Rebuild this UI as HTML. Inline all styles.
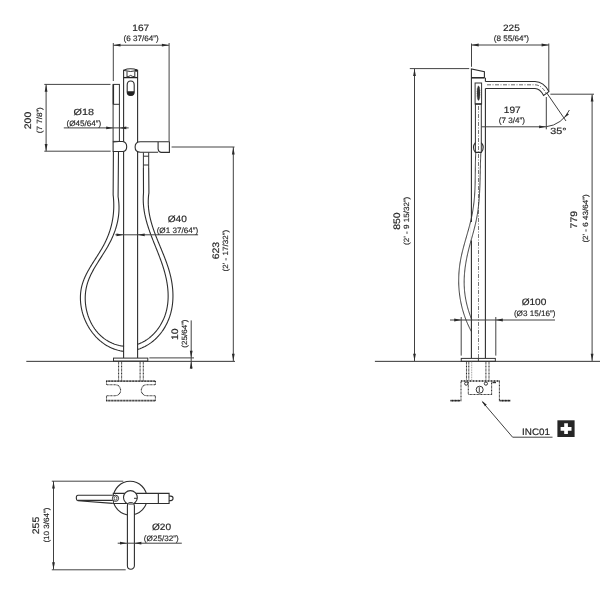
<!DOCTYPE html>
<html><head><meta charset="utf-8">
<style>
html,body{margin:0;padding:0;background:#fff;}
body{width:616px;height:591px;overflow:hidden;}
svg{display:block;}
text{font-family:"Liberation Sans",sans-serif;fill:#262626;text-rendering:geometricPrecision;}
.big{stroke:#262626;stroke-width:0.18px;}
.sm{stroke:#262626;stroke-width:0.14px;}
.ln{stroke:#333;stroke-width:1;fill:none;}
.ex{stroke:#3a3a3a;stroke-width:0.95;fill:none;}
.dm{stroke:#404040;stroke-width:1;fill:none;}
.th{stroke:#2e2e2e;stroke-width:1.1;fill:none;}
.dot{stroke:#2a2a2a;stroke-width:1.05;stroke-dasharray:0.9,0.5;fill:none;}
.dotk{stroke:#1e1e1e;stroke-width:1.7;stroke-dasharray:1,0.5;fill:none;}
</style></head>
<body>
<svg width="616" height="591" viewBox="0 0 616 591">
<line class="ex" x1="113.3" y1="43" x2="113.3" y2="81" />
<line class="ex" x1="169.1" y1="43" x2="169.1" y2="141" />
<line class="dm" x1="113.3" y1="45.2" x2="169.1" y2="45.2" />
<path d="M113.50,45.20 L120.50,43.80 L120.50,46.60 Z" fill="#2a2a2a"/>
<path d="M168.90,45.20 L161.90,46.60 L161.90,43.80 Z" fill="#2a2a2a"/>
<line class="ex" x1="44.3" y1="84.4" x2="110.5" y2="84.4" />
<line class="ex" x1="44.3" y1="151.2" x2="110.7" y2="151.2" />
<line class="dm" x1="46.1" y1="84.4" x2="46.1" y2="151.2" />
<path d="M46.10,84.70 L47.50,91.70 L44.70,91.70 Z" fill="#2a2a2a"/>
<path d="M46.10,150.90 L44.70,143.90 L47.50,143.90 Z" fill="#2a2a2a"/>
<path class="th" d="M123.6,358 L123.6,70.2 Q130.6,67.4 137.6,70.2 L137.6,358"/>
<path class="ln" d="M123.6,70.4 Q130.6,72.6 137.6,70.4"/>
<line x1="123.6" y1="77.6" x2="137.6" y2="77.6" stroke="#222" stroke-width="1.3"/>
<path class="ln" d="M127,71.4 L127,77.6 M134.8,71.4 L134.8,77.6 M127,76.8 Q129,76.6 130.6,75.4 Q132.2,76.6 134.8,76.8"/>
<circle cx="136.1" cy="70.4" r="1.25" fill="#222"/>
<path class="th" d="M127.2,85 Q127.2,81 130.7,81 Q134.2,81 134.2,85 L134.2,92 Q134.2,95.4 130.7,95.4 Q127.2,95.4 127.2,92 Z"/>
<path d="M127.2,91.2 L134.2,91.2 L134.2,92.5 Q134.2,95.6 130.7,95.6 Q127.2,95.6 127.2,92.5 Z" fill="#222"/>
<rect class="ln" x="113.1" y="84.4" width="6.3" height="57" style="fill:#fff"/>
<line x1="113.4" y1="84.4" x2="113.4" y2="104.3" stroke="#2a2a2a" stroke-width="1.35"/>
<line class="ln" x1="113.1" y1="104.3" x2="119.4" y2="104.3"/>
<line class="dm" x1="63.8" y1="127.9" x2="128.7" y2="127.9" />
<path d="M113.20,127.90 L106.20,129.30 L106.20,126.50 Z" fill="#2a2a2a"/>
<path d="M119.30,127.90 L126.30,126.50 L126.30,129.30 Z" fill="#2a2a2a"/>
<path class="th" d="M113.1,142 Q115,141.5 119,141.5 L122.5,141.5 Q126.7,142 126.7,146.8 Q126.7,151.5 122.5,151.5 L119,151.5 Q115,151.5 113.1,151.5 Z" style="fill:#fff"/>
<rect x="136" y="142" width="33" height="10" fill="#fff"/>
<path class="th" d="M140.5,141.7 L169.4,141.7 L169.4,152.4 L161,152.4 Q158.5,152 158.1,149 L158.1,141.7 M158.1,152.2 L140.5,152.2 Q135.1,152.2 135.1,147 Q135.1,141.7 140.5,141.7" style="fill:#fff"/>
<path class="ln" d="M143.4,152.5 L143.4,168 M148.7,152.5 L148.7,168 M143.4,156.2 L148.7,156.2 M143.4,165 L148.7,165"/>
<path class="th" d="M113.4,151.5 L113.14,194.85 L113.25,195.83 L113.35,196.80 L113.44,197.77 L113.52,198.74 L113.59,199.71 L113.64,200.67 L113.69,201.63 L113.73,202.59 L113.75,203.54 L113.77,204.49 L113.78,205.44 L113.77,206.38 L113.76,207.32 L113.73,208.26 L113.70,209.20 L113.65,210.13 L113.59,211.06 L113.53,211.98 L113.45,212.91 L113.37,213.83 L113.27,214.74 L113.16,215.66 L113.05,216.57 L112.92,217.48 L112.78,218.38 L112.64,219.29 L112.48,220.19 L112.31,221.09 L112.14,221.98 L111.95,222.87 L111.76,223.76 L111.55,224.65 L111.34,225.53 L111.11,226.41 L110.88,227.29 L110.63,228.16 L110.38,229.04 L110.11,229.91 L109.84,230.78 L109.55,231.64 L109.26,232.50 L108.96,233.36 L108.65,234.22 L108.33,235.07 L107.99,235.92 L107.65,236.77 L107.30,237.62 L106.94,238.46 L106.57,239.31 L106.20,240.14 L105.81,240.98 L105.41,241.81 L105.00,242.65 L104.59,243.48 L104.16,244.30 L103.73,245.13 L103.29,245.95 L102.83,246.77 L102.37,247.59 L101.91,248.40 L101.43,249.21 L100.95,250.03 L100.47,250.84 L99.97,251.65 L99.48,252.45 L98.98,253.26 L98.47,254.07 L97.96,254.87 L97.45,255.68 L96.94,256.48 L96.43,257.29 L95.91,258.09 L95.40,258.89 L94.88,259.70 L94.37,260.50 L93.86,261.30 L93.35,262.11 L92.84,262.91 L92.33,263.72 L91.83,264.53 L91.33,265.34 L90.84,266.15 L90.35,266.96 L89.86,267.77 L89.39,268.58 L88.92,269.40 L88.45,270.22 L88.00,271.04 L87.55,271.86 L87.11,272.69 L86.68,273.51 L86.26,274.34 L85.85,275.18 L85.46,276.01 L85.07,276.85 L84.70,277.69 L84.34,278.54 L83.99,279.39 L83.65,280.24 L83.33,281.10 L83.03,281.96 L82.74,282.82 L82.47,283.69 L82.21,284.57 L81.97,285.45 L81.74,286.33 L81.54,287.22 L81.35,288.11 L81.18,289.00 L81.03,289.90 L80.89,290.81 L80.77,291.71 L80.67,292.62 L80.58,293.53 L80.52,294.45 L80.46,295.36 L80.43,296.28 L80.41,297.20 L80.41,298.12 L80.42,299.04 L80.45,299.96 L80.50,300.89 L80.56,301.81 L80.63,302.73 L80.73,303.65 L80.84,304.58 L80.96,305.50 L81.10,306.42 L81.25,307.33 L81.42,308.25 L81.61,309.16 L81.81,310.07 L82.02,310.98 L82.25,311.89 L82.50,312.79 L82.75,313.69 L83.03,314.59 L83.32,315.48 L83.62,316.36 L83.93,317.25 L84.26,318.12 L84.61,319.00 L84.96,319.86 L85.34,320.73 L85.72,321.58 L86.12,322.43 L86.53,323.27 L86.96,324.11 L87.39,324.94 L87.85,325.76 L88.31,326.58 L88.79,327.38 L89.28,328.18 L89.78,328.97 L90.30,329.75 L90.83,330.53 L91.37,331.29 L91.92,332.04 L92.48,332.79 L93.06,333.52 L93.65,334.24 L94.25,334.96 L94.86,335.66 L95.49,336.35 L96.12,337.03 L96.77,337.70 L97.43,338.35 L98.10,339.00 L98.78,339.63 L99.47,340.25 L100.17,340.85 L100.89,341.44 L101.61,342.02 L102.35,342.58 L103.09,343.13 L103.85,343.67 L104.62,344.19 L105.39,344.70 L106.18,345.19 L106.98,345.66 L107.78,346.12 L108.60,346.57 L109.43,346.99 L110.26,347.40 L111.11,347.80 L111.96,348.17 L112.83,348.53 L113.70,348.87 L114.58,349.19 L115.47,349.50 L116.37,349.78 L117.28,350.05 L118.20,350.30 L119.13,350.53 L120.06,350.74 L121.00,350.93 L121.95,351.09 L122.91,351.24 L123.88,351.37" />
<path class="th" d="M118.5,151.5 L118.09,196.80 L118.24,197.74 L118.38,198.68 L118.50,199.62 L118.61,200.55 L118.71,201.48 L118.79,202.40 L118.86,203.32 L118.91,204.24 L118.96,205.15 L118.99,206.06 L119.01,206.97 L119.01,207.87 L119.00,208.77 L118.98,209.67 L118.95,210.56 L118.91,211.45 L118.85,212.34 L118.79,213.22 L118.71,214.10 L118.62,214.98 L118.52,215.85 L118.40,216.72 L118.28,217.58 L118.14,218.45 L118.00,219.31 L117.84,220.16 L117.67,221.02 L117.50,221.87 L117.31,222.72 L117.11,223.56 L116.90,224.40 L116.68,225.24 L116.46,226.08 L116.22,226.91 L115.97,227.74 L115.71,228.57 L115.45,229.40 L115.17,230.22 L114.89,231.04 L114.59,231.85 L114.29,232.67 L113.98,233.48 L113.66,234.29 L113.33,235.10 L112.99,235.90 L112.65,236.70 L112.30,237.50 L111.93,238.30 L111.57,239.10 L111.19,239.89 L110.81,240.68 L110.41,241.47 L110.01,242.25 L109.61,243.04 L109.20,243.82 L108.78,244.60 L108.35,245.37 L107.91,246.15 L107.47,246.92 L107.03,247.69 L106.58,248.46 L106.12,249.23 L105.66,250.00 L105.19,250.76 L104.72,251.53 L104.25,252.29 L103.77,253.05 L103.29,253.81 L102.81,254.57 L102.33,255.33 L101.84,256.09 L101.36,256.85 L100.87,257.61 L100.39,258.37 L99.90,259.13 L99.42,259.89 L98.93,260.65 L98.45,261.41 L97.97,262.17 L97.49,262.94 L97.02,263.70 L96.55,264.46 L96.08,265.23 L95.62,266.00 L95.16,266.76 L94.71,267.53 L94.26,268.31 L93.82,269.08 L93.38,269.86 L92.95,270.63 L92.53,271.42 L92.12,272.20 L91.71,272.98 L91.32,273.77 L90.93,274.56 L90.55,275.36 L90.18,276.15 L89.83,276.95 L89.48,277.76 L89.14,278.57 L88.82,279.38 L88.50,280.19 L88.20,281.01 L87.91,281.83 L87.64,282.66 L87.38,283.49 L87.13,284.33 L86.90,285.17 L86.68,286.01 L86.48,286.86 L86.30,287.72 L86.12,288.58 L85.97,289.44 L85.83,290.30 L85.70,291.17 L85.59,292.04 L85.49,292.92 L85.41,293.80 L85.34,294.67 L85.29,295.56 L85.25,296.44 L85.23,297.32 L85.22,298.21 L85.23,299.09 L85.25,299.98 L85.28,300.86 L85.33,301.75 L85.39,302.63 L85.47,303.52 L85.57,304.40 L85.67,305.28 L85.79,306.16 L85.93,307.04 L86.08,307.91 L86.24,308.79 L86.42,309.66 L86.61,310.52 L86.82,311.39 L87.04,312.25 L87.27,313.11 L87.52,313.96 L87.78,314.80 L88.05,315.65 L88.34,316.48 L88.65,317.32 L88.96,318.14 L89.29,318.96 L89.63,319.78 L89.99,320.59 L90.36,321.39 L90.74,322.18 L91.14,322.97 L91.55,323.75 L91.97,324.52 L92.41,325.28 L92.86,326.03 L93.32,326.78 L93.80,327.51 L94.29,328.24 L94.79,328.96 L95.31,329.66 L95.84,330.36 L96.38,331.04 L96.93,331.72 L97.50,332.38 L98.08,333.04 L98.67,333.68 L99.28,334.31 L99.89,334.92 L100.52,335.53 L101.17,336.12 L101.82,336.69 L102.49,337.26 L103.17,337.81 L103.86,338.34 L104.57,338.87 L105.29,339.37 L106.01,339.87 L106.76,340.34 L107.51,340.81 L108.28,341.25 L109.05,341.68 L109.84,342.10 L110.65,342.49 L111.46,342.87 L112.29,343.24 L113.13,343.58 L113.98,343.91 L114.84,344.22 L115.71,344.51 L116.59,344.78 L117.49,345.04 L118.40,345.27 L119.32,345.49 L120.25,345.68 L121.19,345.86 L122.15,346.01 L123.11,346.15 L124.09,346.26" />
<path class="th" d="M143.4,168 L143.52,192.89 L143.45,193.77 L143.39,194.65 L143.33,195.52 L143.29,196.40 L143.27,197.26 L143.25,198.13 L143.24,198.99 L143.24,199.85 L143.26,200.71 L143.28,201.56 L143.32,202.41 L143.36,203.26 L143.42,204.11 L143.48,204.95 L143.55,205.79 L143.63,206.63 L143.73,207.47 L143.83,208.30 L143.94,209.13 L144.05,209.96 L144.18,210.79 L144.31,211.62 L144.45,212.44 L144.60,213.26 L144.76,214.08 L144.92,214.90 L145.10,215.71 L145.28,216.53 L145.46,217.34 L145.65,218.15 L145.85,218.96 L146.06,219.77 L146.27,220.57 L146.49,221.37 L146.71,222.18 L146.94,222.98 L147.17,223.78 L147.41,224.58 L147.66,225.38 L147.91,226.17 L148.16,226.97 L148.42,227.76 L148.68,228.55 L148.95,229.35 L149.22,230.14 L149.50,230.93 L149.77,231.72 L150.06,232.51 L150.34,233.30 L150.63,234.08 L150.92,234.87 L151.22,235.66 L151.51,236.44 L151.81,237.23 L152.11,238.01 L152.42,238.80 L152.72,239.58 L153.03,240.37 L153.34,241.15 L153.65,241.93 L153.96,242.72 L154.27,243.50 L154.59,244.29 L154.90,245.07 L155.21,245.85 L155.53,246.64 L155.84,247.42 L156.15,248.21 L156.47,248.99 L156.78,249.78 L157.09,250.56 L157.41,251.35 L157.72,252.14 L158.03,252.92 L158.33,253.71 L158.64,254.50 L158.95,255.29 L159.25,256.08 L159.55,256.87 L159.85,257.66 L160.15,258.46 L160.44,259.25 L160.73,260.05 L161.02,260.84 L161.30,261.64 L161.58,262.44 L161.86,263.24 L162.14,264.04 L162.41,264.84 L162.67,265.65 L162.93,266.45 L163.19,267.26 L163.44,268.07 L163.69,268.88 L163.94,269.69 L164.17,270.51 L164.41,271.32 L164.63,272.14 L164.86,272.96 L165.07,273.78 L165.28,274.60 L165.49,275.43 L165.68,276.25 L165.87,277.08 L166.06,277.91 L166.24,278.74 L166.41,279.58 L166.57,280.41 L166.73,281.24 L166.88,282.08 L167.02,282.91 L167.15,283.75 L167.28,284.59 L167.40,285.43 L167.51,286.27 L167.61,287.11 L167.70,287.94 L167.79,288.78 L167.86,289.62 L167.93,290.46 L167.99,291.30 L168.04,292.14 L168.08,292.98 L168.11,293.82 L168.13,294.66 L168.14,295.49 L168.14,296.33 L168.14,297.17 L168.12,298.00 L168.09,298.84 L168.05,299.67 L168.00,300.50 L167.94,301.33 L167.87,302.16 L167.78,302.99 L167.69,303.81 L167.58,304.64 L167.47,305.46 L167.34,306.28 L167.20,307.10 L167.05,307.91 L166.88,308.73 L166.71,309.54 L166.52,310.35 L166.32,311.16 L166.10,311.96 L165.87,312.76 L165.63,313.56 L165.38,314.36 L165.11,315.15 L164.84,315.94 L164.54,316.73 L164.24,317.51 L163.92,318.29 L163.58,319.06 L163.24,319.84 L162.88,320.60 L162.51,321.36 L162.12,322.12 L161.73,322.86 L161.32,323.61 L160.90,324.34 L160.46,325.07 L160.02,325.80 L159.56,326.51 L159.09,327.22 L158.61,327.92 L158.11,328.61 L157.61,329.29 L157.09,329.97 L156.56,330.64 L156.02,331.29 L155.47,331.94 L154.91,332.57 L154.34,333.20 L153.75,333.82 L153.16,334.42 L152.55,335.02 L151.93,335.60 L151.30,336.17 L150.67,336.73 L150.02,337.27 L149.36,337.81 L148.69,338.33 L148.01,338.83 L147.32,339.33 L146.62,339.81 L145.91,340.27 L145.19,340.72 L144.46,341.16 L143.72,341.58 L142.97,341.99 L142.22,342.38 L141.45,342.75 L140.67,343.11 L139.89,343.45 L139.09,343.78 L138.29,344.09 L137.48,344.38" />
<path class="th" d="M148.7,168 L148.92,192.91 L148.79,193.83 L148.67,194.75 L148.57,195.67 L148.48,196.58 L148.41,197.48 L148.35,198.39 L148.31,199.29 L148.28,200.19 L148.26,201.09 L148.25,201.98 L148.26,202.87 L148.28,203.75 L148.31,204.64 L148.36,205.52 L148.41,206.40 L148.48,207.27 L148.55,208.15 L148.64,209.02 L148.74,209.89 L148.85,210.75 L148.97,211.62 L149.10,212.48 L149.24,213.34 L149.39,214.20 L149.55,215.05 L149.72,215.91 L149.90,216.76 L150.08,217.61 L150.28,218.45 L150.48,219.30 L150.69,220.15 L150.91,220.99 L151.13,221.83 L151.36,222.67 L151.60,223.51 L151.85,224.34 L152.10,225.18 L152.36,226.01 L152.62,226.84 L152.90,227.68 L153.17,228.51 L153.45,229.34 L153.74,230.16 L154.03,230.99 L154.33,231.82 L154.63,232.64 L154.93,233.47 L155.24,234.29 L155.55,235.11 L155.87,235.94 L156.19,236.76 L156.51,237.58 L156.84,238.40 L157.16,239.22 L157.49,240.04 L157.83,240.87 L158.16,241.69 L158.49,242.51 L158.83,243.33 L159.17,244.15 L159.51,244.97 L159.85,245.79 L160.19,246.61 L160.53,247.43 L160.87,248.25 L161.21,249.07 L161.54,249.89 L161.88,250.71 L162.22,251.53 L162.56,252.36 L162.89,253.18 L163.22,254.01 L163.55,254.83 L163.88,255.66 L164.21,256.48 L164.53,257.31 L164.85,258.14 L165.17,258.97 L165.49,259.80 L165.80,260.63 L166.10,261.47 L166.41,262.30 L166.71,263.14 L167.00,263.97 L167.29,264.81 L167.57,265.65 L167.85,266.49 L168.13,267.34 L168.40,268.18 L168.66,269.03 L168.92,269.88 L169.16,270.73 L169.41,271.58 L169.64,272.44 L169.87,273.29 L170.10,274.15 L170.31,275.01 L170.52,275.87 L170.72,276.74 L170.91,277.60 L171.09,278.47 L171.27,279.34 L171.44,280.21 L171.60,281.08 L171.75,281.95 L171.89,282.82 L172.03,283.70 L172.15,284.57 L172.27,285.45 L172.38,286.33 L172.48,287.20 L172.57,288.08 L172.65,288.96 L172.72,289.83 L172.78,290.71 L172.84,291.59 L172.88,292.46 L172.91,293.34 L172.94,294.22 L172.95,295.09 L172.95,295.97 L172.95,296.84 L172.93,297.72 L172.90,298.59 L172.87,299.46 L172.82,300.33 L172.76,301.20 L172.69,302.07 L172.61,302.93 L172.51,303.80 L172.41,304.66 L172.30,305.52 L172.17,306.38 L172.03,307.24 L171.88,308.09 L171.72,308.95 L171.55,309.80 L171.36,310.65 L171.17,311.49 L170.96,312.33 L170.74,313.17 L170.50,314.01 L170.26,314.85 L170.00,315.68 L169.73,316.51 L169.44,317.33 L169.14,318.15 L168.83,318.97 L168.51,319.78 L168.18,320.59 L167.83,321.39 L167.47,322.19 L167.10,322.99 L166.72,323.77 L166.32,324.56 L165.91,325.33 L165.49,326.10 L165.06,326.86 L164.61,327.62 L164.15,328.37 L163.68,329.11 L163.20,329.85 L162.71,330.58 L162.21,331.30 L161.69,332.01 L161.16,332.71 L160.62,333.41 L160.07,334.09 L159.50,334.77 L158.93,335.43 L158.34,336.09 L157.74,336.74 L157.13,337.38 L156.51,338.00 L155.87,338.62 L155.23,339.23 L154.57,339.82 L153.90,340.40 L153.23,340.98 L152.53,341.54 L151.83,342.08 L151.12,342.62 L150.40,343.14 L149.66,343.65 L148.92,344.15 L148.16,344.63 L147.39,345.10 L146.61,345.56 L145.82,346.00 L145.02,346.43 L144.21,346.84 L143.38,347.24 L142.55,347.62 L141.71,347.99 L140.85,348.34 L139.99,348.68 L139.11,349.00 L138.22,349.31 L137.33,349.60" />
<line class="dm" x1="115.3" y1="234.8" x2="198.1" y2="234.8" />
<path d="M123.50,234.80 L116.50,236.20 L116.50,233.40 Z" fill="#2a2a2a"/>
<path d="M137.70,234.80 L144.70,233.40 L144.70,236.20 Z" fill="#2a2a2a"/>
<line class="ex" x1="171.6" y1="147" x2="234.5" y2="147" />
<line class="dm" x1="233.3" y1="147" x2="233.3" y2="361" />
<path d="M233.30,147.40 L234.70,154.40 L231.90,154.40 Z" fill="#2a2a2a"/>
<path d="M233.30,360.80 L231.90,353.80 L234.70,353.80 Z" fill="#2a2a2a"/>
<rect class="ln" x="113.5" y="358.1" width="34.3" height="3" style="fill:#fff"/>
<line class="ln" x1="26.3" y1="361.35" x2="235" y2="361.35" />
<line class="ex" x1="149.3" y1="357.9" x2="194" y2="357.9" />
<line class="dm" x1="191.2" y1="320.4" x2="191.2" y2="369" />
<path d="M191.20,357.70 L189.80,350.70 L192.60,350.70 Z" fill="#2a2a2a"/>
<path d="M191.20,361.50 L192.60,368.50 L189.80,368.50 Z" fill="#2a2a2a"/>
<g class="dot">
<path d="M118.6,361.8 L118.6,380.4 M121.6,361.8 L121.6,380.4 M140.1,361.8 L140.1,380.4 M143.3,361.8 L143.3,380.4"/>
<path d="M106.5,381 L106.5,384.7 L115.1,384.7 A5.5,5.5 0 0 1 115.1,395.7 L106.5,395.7 L106.5,400.8"/>
<path d="M155.4,381 L155.4,384.7 L146.8,384.7 A5.5,5.5 0 0 0 146.8,395.7 L155.4,395.7 L155.4,400.8"/>
</g>
<path class="dotk" d="M106.2,381.1 L155.7,381.1 M106.2,400.7 L155.7,400.7"/>
<line class="ex" x1="471.5" y1="43.5" x2="471.5" y2="66.8" />
<line class="ex" x1="548.8" y1="43.5" x2="548.8" y2="91" />
<line class="dm" x1="471.5" y1="45" x2="548.8" y2="45" />
<path d="M471.70,45.00 L478.70,43.60 L478.70,46.40 Z" fill="#2a2a2a"/>
<path d="M548.60,45.00 L541.60,46.40 L541.60,43.60 Z" fill="#2a2a2a"/>
<line class="ex" x1="409.8" y1="68.6" x2="469.2" y2="68.6" />
<line class="dm" x1="414.5" y1="68.8" x2="414.5" y2="361" />
<path d="M414.50,69.00 L415.90,76.00 L413.10,76.00 Z" fill="#2a2a2a"/>
<path d="M414.50,360.80 L413.10,353.80 L415.90,353.80 Z" fill="#2a2a2a"/>
<path class="th" d="M471.4,358 L471.4,68.9 L484.4,71.8 L484.4,77.8 M485.4,77.8 L485.4,81.5 M485.4,88.5 L485.4,358"/>
<line x1="471.4" y1="77.8" x2="484.6" y2="77.8" stroke="#222" stroke-width="1.5"/>
<path class="th" d="M485.4,81.5 L535,81.5 C541.5,81.6 546,86 548.9,91.6 L543.6,95.4 C541.5,91.5 539.5,88.6 535,88.5 L485.4,88.5"/>
<path d="M487,84.8 L535,84.8 C540,84.9 543.5,88.5 546.2,93.4" stroke="#444" stroke-width="0.8" fill="none" stroke-dasharray="4,1.5,1,1.5"/>
<rect class="ln" x="475.1" y="83" width="6.5" height="21"/>
<path d="M478.5,85.8 Q480,87 480,93 Q480,99.5 478.5,100.6 Q477,99.5 477,93 Q477,87 478.5,85.8 Z" fill="#333" stroke="#222" stroke-width="0.5" stroke-dasharray="1,0.6"/>
<line x1="475.1" y1="104" x2="481.6" y2="104" stroke="#222" stroke-width="1.3"/>
<path class="ln" d="M475.4,104 L475.4,152.4 M481.3,104 L481.3,152.4"/>
<path d="M478.5,106 L478.5,358" stroke="#555" stroke-width="0.8" fill="none" stroke-dasharray="4,1.5,1,1.5"/>
<path class="th" d="M475.4,142.7 Q471.4,147.5 475.4,152.4 L481.3,152.4 Q485.3,147.5 481.3,142.7"/>
<rect x="470.4" y="222" width="2" height="18.5" fill="#fff"/>
<path class="ln" d="M475.75,152.47 L475.71,153.39 L475.67,154.31 L475.63,155.23 L475.59,156.15 L475.56,157.07 L475.53,157.99 L475.50,158.91 L475.47,159.84 L475.45,160.76 L475.43,161.68 L475.41,162.61 L475.40,163.53 L475.38,164.45 L475.37,165.38 L475.35,166.30 L475.34,167.23 L475.33,168.15 L475.32,169.08 L475.31,170.00 L475.30,170.93 L475.30,171.85 L475.29,172.78 L475.28,173.70 L475.27,174.63 L475.26,175.55 L475.25,176.48 L475.24,177.40 L475.23,178.33 L475.21,179.25 L475.20,180.18 L475.18,181.10 L475.16,182.03 L475.14,182.95 L475.12,183.87 L475.10,184.80 L475.07,185.72 L475.04,186.64 L475.01,187.56 L474.98,188.48 L474.94,189.40 L474.90,190.32 L474.85,191.24 L474.80,192.16 L474.75,193.08 L474.69,194.00 L474.63,194.91 L474.57,195.83 L474.50,196.74 L474.43,197.66 L474.35,198.57 L474.26,199.48 L474.17,200.40 L474.08,201.31 L473.98,202.22 L473.87,203.12 L473.76,204.03 L473.65,204.94 L473.53,205.85 L473.40,206.75 L473.27,207.66 L473.13,208.56 L472.99,209.46 L472.84,210.36 L472.69,211.26 L472.53,212.16 L472.37,213.06 L472.20,213.96 L472.03,214.86 L471.85,215.76 L471.66,216.65 L471.47,217.55 L471.28,218.44 L471.08,219.34 L470.88,220.23 L470.67,221.12 L470.45,222.01 L470.23,222.90 L470.01,223.79 L469.78,224.68 L469.55,225.57 L469.32,226.46 L469.08,227.34 L468.84,228.23 L468.60,229.12 L468.35,230.01 L468.10,230.89 L467.85,231.78 L467.60,232.66 L467.35,233.55 L467.10,234.43 L466.84,235.32 L466.59,236.20 L466.34,237.09 L466.08,237.98 L465.83,238.86 L465.57,239.75 L465.32,240.63 L465.07,241.52 L464.82,242.40 L464.57,243.29 L464.32,244.18 L464.08,245.07 L463.84,245.95 L463.60,246.84 L463.36,247.73 L463.13,248.62 L462.90,249.51 L462.67,250.40 L462.45,251.29 L462.23,252.19 L462.02,253.08 L461.81,253.97 L461.61,254.87 L461.41,255.76 L461.22,256.66 L461.03,257.56 L460.85,258.46 L460.68,259.36 L460.52,260.26 L460.36,261.16 L460.20,262.07 L460.06,262.97 L459.92,263.88 L459.79,264.79 L459.67,265.69 L459.55,266.60 L459.44,267.51 L459.34,268.42 L459.25,269.34 L459.16,270.25 L459.08,271.16 L459.01,272.08 L458.95,272.99 L458.89,273.91 L458.84,274.82 L458.80,275.74 L458.76,276.65 L458.74,277.57 L458.72,278.49 L458.70,279.40 L458.70,280.32 L458.70,281.24 L458.71,282.15 L458.73,283.07 L458.75,283.99 L458.78,284.90 L458.82,285.82 L458.87,286.74 L458.92,287.65 L458.99,288.57 L459.06,289.48 L459.13,290.40 L459.22,291.31 L459.31,292.23 L459.41,293.14 L459.52,294.05 L459.63,294.96 L459.76,295.87 L459.89,296.78 L460.03,297.69 L460.17,298.60 L460.33,299.50 L460.49,300.41 L460.66,301.31 L460.83,302.22 L461.02,303.12 L461.21,304.02 L461.41,304.92 L461.62,305.81 L461.83,306.71 L462.06,307.60 L462.29,308.50 L462.53,309.39 L462.78,310.28 L463.03,311.16 L463.29,312.05 L463.56,312.93 L463.84,313.81 L464.13,314.69 L464.42,315.57 L464.72,316.45 L465.03,317.32 L465.35,318.19 L465.68,319.06 L466.01,319.93 L466.35,320.79 L466.70,321.65 L467.06,322.51 L467.42,323.37 L467.80,324.22 L468.18,325.07 L468.57,325.92 L468.97,326.76 L469.37,327.61 L469.79,328.45 L470.21,329.28 L470.64,330.12 L471.08,330.95 L471.52,331.77" />
<path class="ln" d="M480.88,152.48 L480.84,153.33 L480.80,154.18 L480.76,155.03 L480.73,155.88 L480.69,156.73 L480.66,157.59 L480.63,158.44 L480.60,159.29 L480.57,160.15 L480.55,161.00 L480.52,161.85 L480.50,162.71 L480.47,163.56 L480.45,164.42 L480.43,165.27 L480.41,166.13 L480.38,166.98 L480.36,167.84 L480.34,168.69 L480.32,169.55 L480.30,170.40 L480.29,171.26 L480.27,172.11 L480.25,172.97 L480.23,173.82 L480.21,174.68 L480.19,175.54 L480.17,176.39 L480.15,177.25 L480.12,178.10 L480.10,178.96 L480.08,179.81 L480.06,180.67 L480.03,181.52 L480.00,182.38 L479.98,183.23 L479.95,184.09 L479.92,184.94 L479.89,185.80 L479.86,186.65 L479.82,187.50 L479.78,188.36 L479.75,189.21 L479.71,190.06 L479.67,190.91 L479.62,191.77 L479.58,192.62 L479.53,193.47 L479.48,194.32 L479.42,195.17 L479.37,196.02 L479.31,196.87 L479.25,197.72 L479.18,198.57 L479.12,199.42 L479.05,200.27 L478.97,201.11 L478.90,201.96 L478.82,202.81 L478.74,203.65 L478.65,204.50 L478.56,205.34 L478.47,206.19 L478.37,207.03 L478.27,207.87 L478.16,208.72 L478.05,209.56 L477.94,210.40 L477.82,211.24 L477.70,212.08 L477.57,212.92 L477.44,213.76 L477.31,214.59 L477.17,215.43 L477.02,216.26 L476.87,217.10 L476.72,217.93 L476.56,218.77 L476.39,219.60 L476.22,220.43 L476.05,221.26 L475.87,222.09 L475.68,222.92 L475.50,223.75 L475.30,224.57 L475.10,225.40 L474.90,226.23 L474.70,227.05 L474.49,227.88 L474.28,228.70 L474.06,229.52 L473.85,230.35 L473.63,231.17 L473.41,231.99 L473.19,232.82 L472.96,233.64 L472.74,234.46 L472.51,235.28 L472.28,236.11 L472.05,236.93 L471.82,237.75 L471.60,238.57 L471.37,239.40 L471.14,240.22 L470.91,241.04 L470.68,241.86 L470.46,242.69 L470.23,243.51 L470.01,244.33 L469.79,245.16 L469.57,245.98 L469.35,246.81 L469.14,247.63 L468.92,248.46 L468.71,249.29 L468.51,250.11 L468.30,250.94 L468.11,251.77 L467.91,252.60 L467.72,253.43 L467.53,254.26 L467.35,255.09 L467.17,255.93 L466.99,256.76 L466.82,257.59 L466.66,258.43 L466.49,259.26 L466.34,260.10 L466.18,260.93 L466.04,261.77 L465.89,262.61 L465.75,263.44 L465.62,264.28 L465.49,265.12 L465.37,265.96 L465.25,266.80 L465.14,267.64 L465.03,268.48 L464.93,269.32 L464.84,270.16 L464.75,271.00 L464.67,271.84 L464.59,272.69 L464.52,273.53 L464.45,274.37 L464.39,275.21 L464.34,276.06 L464.29,276.90 L464.25,277.74 L464.22,278.59 L464.20,279.43 L464.18,280.27 L464.16,281.12 L464.16,281.96 L464.16,282.81 L464.17,283.65 L464.19,284.50 L464.21,285.34 L464.24,286.19 L464.28,287.03 L464.33,287.88 L464.38,288.72 L464.44,289.57 L464.51,290.41 L464.59,291.25 L464.68,292.10 L464.77,292.94 L464.88,293.79 L464.99,294.63 L465.10,295.48 L465.23,296.32 L465.36,297.16 L465.50,298.00 L465.65,298.85 L465.81,299.69 L465.97,300.53 L466.14,301.37 L466.32,302.21 L466.51,303.05 L466.70,303.89 L466.90,304.73 L467.11,305.56 L467.33,306.40 L467.55,307.23 L467.78,308.07 L468.02,308.90 L468.26,309.73 L468.51,310.57 L468.77,311.40 L469.03,312.23 L469.31,313.05 L469.58,313.88 L469.87,314.71 L470.16,315.53 L470.46,316.35 L470.77,317.18 L471.08,318.00 L471.40,318.81 L471.72,319.63" />
<line class="dm" x1="481.5" y1="126.8" x2="546.3" y2="126.8" />
<path d="M546.10,126.80 L539.10,128.20 L539.10,125.40 Z" fill="#2a2a2a"/>
<line class="dm" x1="546.3" y1="97" x2="546.3" y2="129.3" />
<line class="dm" x1="546.8" y1="93" x2="566" y2="121" />
<path class="dm" d="M546.3,126.7 A28.7,28.7 0 0 0 569.4,110"/>
<path d="M563.96,118.03 L567.32,112.94 L568.91,114.46 Z" fill="#2a2a2a"/>
<line class="ex" x1="550.4" y1="94.2" x2="594" y2="94.2" />
<line class="dm" x1="592.1" y1="94.4" x2="592.1" y2="361" />
<path d="M592.10,94.60 L593.50,101.60 L590.70,101.60 Z" fill="#2a2a2a"/>
<path d="M592.10,360.80 L590.70,353.80 L593.50,353.80 Z" fill="#2a2a2a"/>
<line class="ex" x1="461.2" y1="317.0" x2="461.2" y2="355.6" />
<line class="ex" x1="495.8" y1="317.0" x2="495.8" y2="355.6" />
<line class="dm" x1="450" y1="320" x2="555" y2="320" />
<path d="M461.20,320.00 L454.20,321.40 L454.20,318.60 Z" fill="#2a2a2a"/>
<path d="M495.80,320.00 L502.80,318.60 L502.80,321.40 Z" fill="#2a2a2a"/>
<rect class="ln" x="461.25" y="358.4" width="34.1" height="2.9" style="fill:#fff"/>
<line class="ln" x1="374.9" y1="361.35" x2="600" y2="361.35" />
<g class="dot">
<path d="M466.5,361.8 L466.5,380.3 M468.8,361.8 L468.8,380.3 M485.9,361.8 L485.9,380.3 M489,361.8 L489,380.3"/>
<path d="M450.6,400.6 L461,400.6 L461,380.8 M499.4,380.8 L499.4,400.6 L510.3,400.6"/>
<path d="M468.3,382 L468.3,394.4 L491.6,394.4 L491.6,382"/>
</g>
<path class="dotk" d="M461,381 L499.4,381 M450.6,400.6 L460,400.6 M500.4,400.6 L510.3,400.6"/>
<path d="M471.7,361.8 L471.7,380.3" stroke="#888" stroke-width="0.8" stroke-dasharray="1,0.7" fill="none"/>
<line x1="478.4" y1="358.6" x2="478.4" y2="361" stroke="#333" stroke-width="0.9"/>
<circle cx="479.7" cy="389.7" r="3.5" fill="none" stroke="#333" stroke-width="1"/>
<line x1="479.3" y1="387.2" x2="479.3" y2="392.2" stroke="#333" stroke-width="0.9"/>
<circle cx="466.2" cy="383.6" r="1.6" fill="none" stroke="#333" stroke-width="1"/>
<circle cx="485.9" cy="383.6" r="1.6" fill="none" stroke="#333" stroke-width="1"/>
<path d="M492.5,382.5 L496,382.5" stroke="#333" stroke-width="1.4"/>
<path class="dm" d="M482.5,402 L512.6,437.2 L552.5,437.2"/>
<path d="M481.60,400.60 L486.74,404.76 L484.91,406.32 Z" fill="#2a2a2a"/>
<rect x="557.4" y="420.3" width="17.2" height="16.7" fill="#262626"/>
<path d="M566.05,423.2 L566.05,434 M560.6,428.95 L571.5,428.95" stroke="#fff" stroke-width="3.7"/>
<line class="ex" x1="51.8" y1="481.2" x2="123.3" y2="481.2" />
<line class="ex" x1="51.8" y1="569.8" x2="125.7" y2="569.8" />
<line class="dm" x1="53.5" y1="481.1" x2="53.5" y2="569.6" />
<path d="M53.50,481.40 L54.90,488.40 L52.10,488.40 Z" fill="#2a2a2a"/>
<path d="M53.50,569.30 L52.10,562.30 L54.90,562.30 Z" fill="#2a2a2a"/>
<circle class="th" cx="130.1" cy="498.2" r="16.9"/>
<path class="th" d="M113.3,493.4 L169.1,493.4 L169.1,503.5 L113.3,503.5 Z" style="fill:#fff"/>
<path class="th" d="M158.35,493.4 L158.35,503.5 M169.1,496.1 L170.8,496.1 A2.25,2.25 0 0 1 170.8,500.6 L169.1,500.6"/>
<path class="th" d="M112.8,495.2 L78,495.2 Q76.3,495.2 76.3,497.8 Q76.3,500.4 78,500.7 L112.8,503.4 M78,500.4 L112.8,500.4" style="fill:#fff"/>
<circle cx="115.5" cy="498.3" r="3.1" fill="#fff" stroke="#333" stroke-width="1"/>
<ellipse cx="115.5" cy="498.3" rx="1.4" ry="1.8" fill="none" stroke="#333" stroke-width="0.8"/>
<circle class="th" cx="130.4" cy="497.5" r="6.9" style="fill:#fff"/>
<line x1="134" y1="498.3" x2="137.3" y2="498.3" stroke="#333" stroke-width="1"/>
<path class="th" d="M127.4,506 A3.5,3.5 0 0 1 134.4,506 L134.4,565.7 A3.5,3.5 0 0 1 127.4,565.7 Z" style="fill:#fff"/>
<ellipse cx="130.9" cy="503.9" rx="2.6" ry="1.2" fill="#999"/>
<line class="dm" x1="117.7" y1="543.2" x2="181.8" y2="543.2" />
<path d="M127.00,543.20 L120.00,544.60 L120.00,541.80 Z" fill="#2a2a2a"/>
<path d="M134.40,543.20 L141.40,541.80 L141.40,544.60 Z" fill="#2a2a2a"/>
<g style="opacity:0.995">
<text class="big" font-size="9" transform="matrix(1.1200 0.0000 0.0000 1.0300 132.3200 30.9788)">167</text>
<text class="sm" font-size="7" transform="matrix(1.1600 0.0000 0.0000 1.1200 123.5700 41.2400)">(6 37/64”)</text>
<text class="big" font-size="9" transform="matrix(0.0000 -1.1600 1.0500 0.0000 31.3913 129.2350)">200</text>
<text class="sm" font-size="7" transform="matrix(0.0000 -1.1550 1.0800 0.0000 41.7800 133.2481)">(7 7/8”)</text>
<text class="big" font-size="9" transform="matrix(1.2000 0.0000 0.0000 1.0000 73.6050 114.6250)">Ø18</text>
<text class="sm" font-size="7" transform="matrix(1.1600 0.0000 0.0000 1.1200 66.4700 125.7600)">(Ø45/64”)</text>
<text class="big" font-size="9" transform="matrix(1.1200 0.0000 0.0000 1.0300 167.7200 221.8488)">Ø40</text>
<text class="sm" font-size="7" transform="matrix(1.1600 0.0000 0.0000 1.1200 156.6350 232.5000)">(Ø1 37/64”)</text>
<text class="big" font-size="9" transform="matrix(0.0000 -1.1600 1.0500 0.0000 219.1712 259.3100)">623</text>
<text class="sm" font-size="7" transform="matrix(0.0000 -1.1550 1.0800 0.0000 227.8900 271.4000)">(2&#x27; - 17/32”)</text>
<text class="big" font-size="9" transform="matrix(0.0000 -1.1600 1.0500 0.0000 178.1813 340.1100)">10</text>
<text class="sm" font-size="7" transform="matrix(0.0000 -1.1550 1.0800 0.0000 186.5000 347.7588)">(25/64”)</text>
<text class="big" font-size="9" transform="matrix(1.1200 0.0000 0.0000 1.0300 502.9600 30.7188)">225</text>
<text class="sm" font-size="7" transform="matrix(1.1600 0.0000 0.0000 1.1200 493.8200 41.2400)">(8 55/64”)</text>
<text class="big" font-size="9" transform="matrix(0.0000 -1.1600 1.0500 0.0000 400.4312 229.8450)">850</text>
<text class="sm" font-size="7" transform="matrix(0.0000 -1.1550 1.0800 0.0000 409.2600 244.9706)">(2&#x27; - 9 15/32”)</text>
<text class="big" font-size="9" transform="matrix(0.0000 -1.1600 1.0500 0.0000 577.2812 228.3900)">779</text>
<text class="sm" font-size="7" transform="matrix(0.0000 -1.1550 1.0800 0.0000 587.5400 242.6106)">(2&#x27; - 6 43/64”)</text>
<text class="big" font-size="9" transform="matrix(1.1200 0.0000 0.0000 1.0300 503.8400 112.8287)">197</text>
<text class="sm" font-size="7" transform="matrix(1.1600 0.0000 0.0000 1.1200 498.7850 122.7200)">(7 3/4”)</text>
<text class="big" font-size="9" transform="matrix(1.2000 0.0000 0.0000 1.0000 550.2700 134.3650)">35°</text>
<text class="big" font-size="9" transform="matrix(1.1200 0.0000 0.0000 1.0300 521.6700 305.3288)">Ø100</text>
<text class="sm" font-size="7" transform="matrix(1.1600 0.0000 0.0000 1.1200 513.8950 316.1100)">(Ø3 15/16”)</text>
<text class="big" font-size="8.5" transform="matrix(1.1600 0.0000 0.0000 1.1000 522.0500 434.8900)">INC01</text>
<text class="big" font-size="9" transform="matrix(0.0000 -1.1600 1.0500 0.0000 38.9112 534.2350)">255</text>
<text class="sm" font-size="7" transform="matrix(0.0000 -1.1550 1.0800 0.0000 48.8900 542.6037)">(10 3/64”)</text>
<text class="big" font-size="9" transform="matrix(1.1200 0.0000 0.0000 1.0300 151.9800 529.8487)">Ø20</text>
<text class="sm" font-size="7" transform="matrix(1.1600 0.0000 0.0000 1.1200 143.8600 540.6300)">(Ø25/32”)</text>
</g>
</svg>
</body></html>
